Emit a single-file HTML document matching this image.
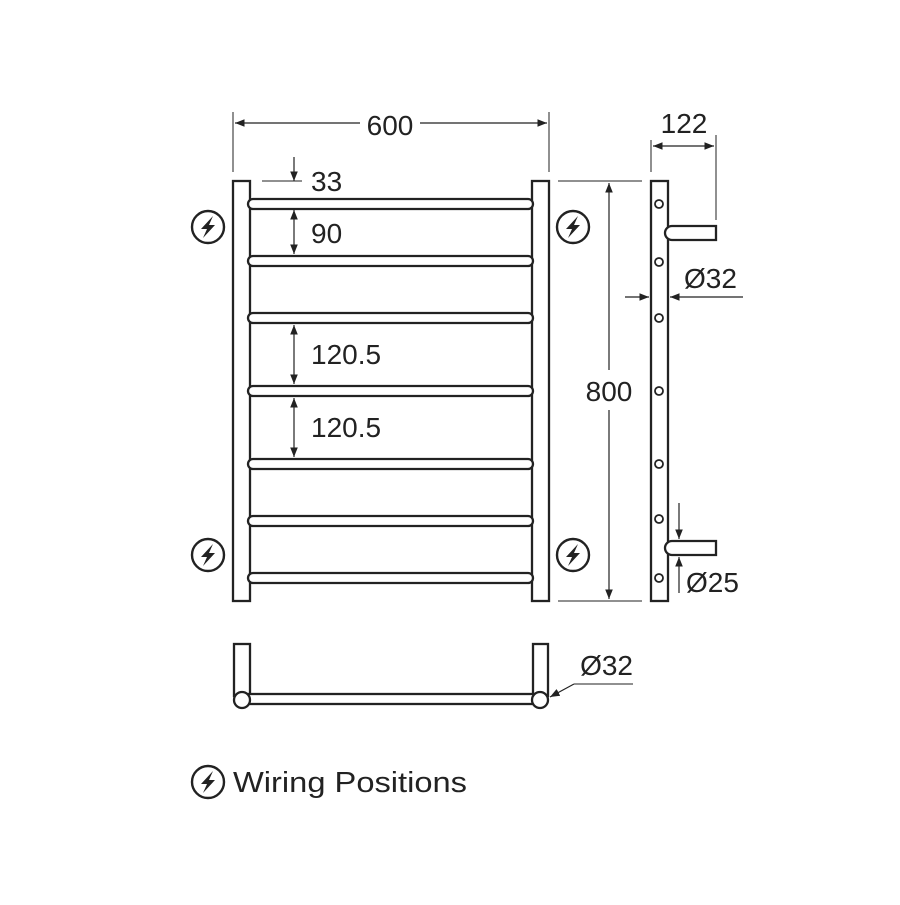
<!DOCTYPE html>
<html><head><meta charset="utf-8"><style>
html,body{margin:0;padding:0;background:#fff;}
text{font-family:"Liberation Sans",sans-serif;fill:#222;}
</style></head><body>
<svg width="900" height="900" viewBox="0 0 900 900" xmlns="http://www.w3.org/2000/svg">
<defs>
<marker id="a" viewBox="0 0 10 10" refX="10" refY="5" markerWidth="8" markerHeight="8" orient="auto-start-reverse"><path d="M0,1 L10,5 L0,9 z" fill="#222"/></marker>
<g id="w"><circle r="16" fill="none" stroke="#222" stroke-width="2.4"/><path d="M5,-11 L-7,2 L-1,2 L-5,11 L7,-2 L1,-2 z" fill="#222"/></g>
</defs>
<g stroke="#222" stroke-width="2.3" fill="none">
<line x1="233" y1="112" x2="233" y2="172" stroke-width="1"/>
<line x1="549" y1="112" x2="549" y2="172" stroke-width="1"/>
<line x1="235" y1="123" x2="360" y2="123" stroke-width="1.2" marker-start="url(#a)"/>
<line x1="420" y1="123" x2="547" y2="123" stroke-width="1.2" marker-end="url(#a)"/>
<rect x="233" y="181" width="17" height="420" fill="#fff"/>
<rect x="532" y="181" width="17" height="420" fill="#fff"/>
<rect x="248" y="199" width="285" height="10" rx="5" fill="#fff"/>
<rect x="248" y="256" width="285" height="10" rx="5" fill="#fff"/>
<rect x="248" y="313" width="285" height="10" rx="5" fill="#fff"/>
<rect x="248" y="386" width="285" height="10" rx="5" fill="#fff"/>
<rect x="248" y="459" width="285" height="10" rx="5" fill="#fff"/>
<rect x="248" y="516" width="285" height="10" rx="5" fill="#fff"/>
<rect x="248" y="573" width="285" height="10" rx="5" fill="#fff"/>
<line x1="262" y1="181" x2="302" y2="181" stroke-width="1"/>
<line x1="294" y1="157" x2="294" y2="181" stroke-width="1.2" marker-end="url(#a)"/>
<line x1="294" y1="210" x2="294" y2="254" stroke-width="1.2" marker-start="url(#a)" marker-end="url(#a)"/>
<line x1="294" y1="325" x2="294" y2="384" stroke-width="1.2" marker-start="url(#a)" marker-end="url(#a)"/>
<line x1="294" y1="398" x2="294" y2="457" stroke-width="1.2" marker-start="url(#a)" marker-end="url(#a)"/>
<line x1="558" y1="181" x2="642" y2="181" stroke-width="1"/>
<line x1="558" y1="601" x2="642" y2="601" stroke-width="1"/>
<line x1="609" y1="183" x2="609" y2="370" stroke-width="1.2" marker-start="url(#a)"/>
<line x1="609" y1="410" x2="609" y2="599" stroke-width="1.2" marker-end="url(#a)"/>
<rect x="651" y="181" width="17" height="420" fill="#fff"/>
<g stroke-width="1.8">
<circle cx="659" cy="204" r="4"/><circle cx="659" cy="262" r="4"/><circle cx="659" cy="318" r="4"/><circle cx="659" cy="391" r="4"/><circle cx="659" cy="464" r="4"/><circle cx="659" cy="519" r="4"/><circle cx="659" cy="578" r="4"/>
</g>
<path d="M716,226 L672,226 A7,7 0 0 0 672,240 L716,240 z" fill="#fff"/>
<path d="M716,541 L672,541 A7,7 0 0 0 672,555 L716,555 z" fill="#fff"/>
<line x1="651" y1="140" x2="651" y2="172" stroke-width="1"/>
<line x1="716" y1="135" x2="716" y2="220" stroke-width="1"/>
<line x1="653" y1="146" x2="714" y2="146" stroke-width="1.2" marker-start="url(#a)" marker-end="url(#a)"/>
<line x1="625" y1="297" x2="649" y2="297" stroke-width="1.2" marker-end="url(#a)"/>
<line x1="743" y1="297" x2="670" y2="297" stroke-width="1.2" marker-end="url(#a)"/>
<line x1="679" y1="503" x2="679" y2="539" stroke-width="1.2" marker-end="url(#a)"/>
<line x1="679" y1="593" x2="679" y2="557" stroke-width="1.2" marker-end="url(#a)"/>
<rect x="234" y="644" width="16" height="52" fill="#fff"/>
<rect x="533" y="644" width="15" height="52" fill="#fff"/>
<rect x="240" y="694" width="300" height="10" fill="#fff"/>
<circle cx="242" cy="700" r="8" fill="#fff"/>
<circle cx="540" cy="700" r="8" fill="#fff"/>
<line x1="633" y1="684" x2="574" y2="684" stroke-width="1"/>
<line x1="574" y1="684" x2="550" y2="697" stroke-width="1.2" marker-end="url(#a)"/>
</g>
<use href="#w" x="208" y="227"/><use href="#w" x="573" y="227"/>
<use href="#w" x="208" y="555"/><use href="#w" x="573" y="555"/>
<use href="#w" x="208" y="782"/>
<g font-size="28">
<text x="390" y="135" text-anchor="middle">600</text>
<text x="311" y="191">33</text>
<text x="311" y="243">90</text>
<text x="311" y="364">120.5</text>
<text x="311" y="437">120.5</text>
<text x="609" y="401" text-anchor="middle">800</text>
<text x="684" y="133" text-anchor="middle">122</text>
<text x="684" y="288">Ø32</text>
<text x="686" y="592">Ø25</text>
<text x="633" y="675" text-anchor="end">Ø32</text>
<text x="233" y="792" font-size="29" textLength="234" lengthAdjust="spacingAndGlyphs">Wiring Positions</text>
</g>
</svg>
</body></html>
